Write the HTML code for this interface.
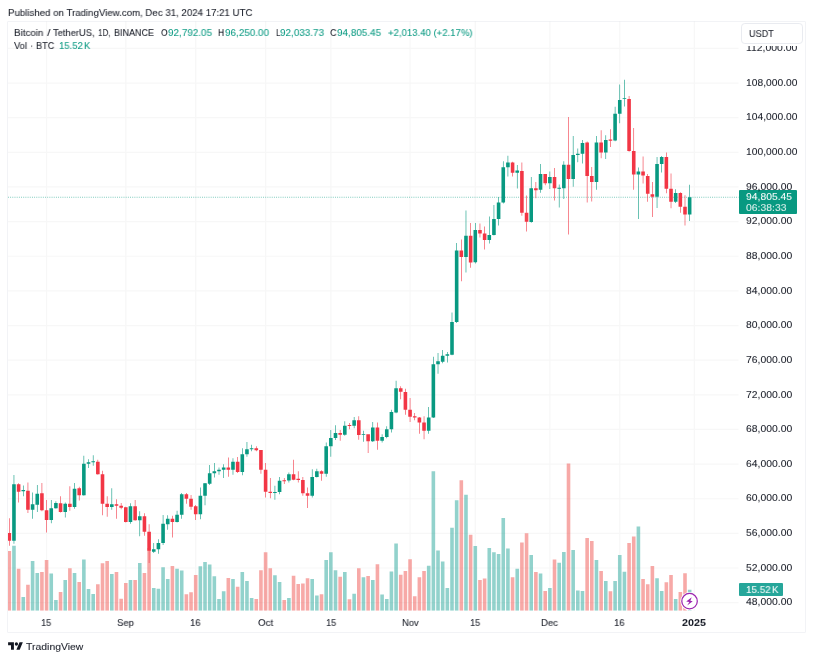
<!DOCTYPE html>
<html><head><meta charset="utf-8"><title>BTCUSDT</title>
<style>
html,body{margin:0;padding:0;background:#fff;}
body{width:813px;height:660px;position:relative;overflow:hidden;font-family:"Liberation Sans",sans-serif;color:#131722;}
.t{position:absolute;white-space:pre;font-size:10px;line-height:12px;height:12px;will-change:transform;transform-origin:0 9px;-webkit-text-stroke:0.06px currentColor;}
.frame{position:absolute;left:7.4px;top:20.6px;width:798.6px;height:612.2px;border:1px solid #f2f3f6;box-sizing:border-box;border-radius:1px;}
.tag{position:absolute;border-radius:1px;}
</style></head><body>

<div class="frame"></div>
<svg width="813" height="660" viewBox="0 0 813 660" style="position:absolute;left:0;top:0"><path d="M8.0 602.65H738.5M8.0 568.01H738.5M8.0 533.37H738.5M8.0 498.73H738.5M8.0 464.09H738.5M8.0 429.45H738.5M8.0 394.81H738.5M8.0 360.17H738.5M8.0 325.53H738.5M8.0 290.89H738.5M8.0 256.25H738.5M8.0 221.61H738.5M8.0 186.97H738.5M8.0 152.33H738.5M8.0 117.69H738.5M8.0 83.05H738.5M8.0 48.41H738.5M46.58 21.5V610.7M125.8 21.5V610.7M195.7 21.5V610.7M265.6 21.5V610.7M330.84 21.5V610.7M410.06 21.5V610.7M475.3 21.5V610.7M549.86 21.5V610.7M619.76 21.5V610.7M694.32 21.5V610.7" stroke="rgba(42,46,57,0.04)" stroke-width="1.2" fill="none"/><clipPath id="c"><rect x="8.0" y="21.5" width="730.5" height="589.2"/></clipPath><g clip-path="url(#c)"><path d="M12.16 545.8h3.6V610.7h-3.6zM21.48 597.1h3.6V610.7h-3.6zM30.8 561.1h3.6V610.7h-3.6zM35.46 573.1h3.6V610.7h-3.6zM49.44 573.5h3.6V610.7h-3.6zM54.1 599.9h3.6V610.7h-3.6zM63.42 580.1h3.6V610.7h-3.6zM72.74 573.1h3.6V610.7h-3.6zM82.06 559.4h3.6V610.7h-3.6zM86.72 589.1h3.6V610.7h-3.6zM91.38 594h3.6V610.7h-3.6zM110.02 574.1h3.6V610.7h-3.6zM128.66 579.9h3.6V610.7h-3.6zM137.98 563h3.6V610.7h-3.6zM151.96 588.1h3.6V610.7h-3.6zM156.62 588.8h3.6V610.7h-3.6zM161.28 567.2h3.6V610.7h-3.6zM165.94 579h3.6V610.7h-3.6zM175.26 568.8h3.6V610.7h-3.6zM179.92 570.4h3.6V610.7h-3.6zM198.56 566.2h3.6V610.7h-3.6zM203.22 562.1h3.6V610.7h-3.6zM207.88 564.5h3.6V610.7h-3.6zM212.54 576.2h3.6V610.7h-3.6zM217.2 599h3.6V610.7h-3.6zM221.86 591.2h3.6V610.7h-3.6zM231.18 579h3.6V610.7h-3.6zM240.5 572.1h3.6V610.7h-3.6zM245.16 580.9h3.6V610.7h-3.6zM249.82 598.1h3.6V610.7h-3.6zM273.12 575.2h3.6V610.7h-3.6zM277.78 582h3.6V610.7h-3.6zM287.1 598.1h3.6V610.7h-3.6zM310.4 578.9h3.6V610.7h-3.6zM315.06 595.5h3.6V610.7h-3.6zM324.38 560h3.6V610.7h-3.6zM329.04 552.2h3.6V610.7h-3.6zM333.7 570.3h3.6V610.7h-3.6zM343.02 571.9h3.6V610.7h-3.6zM352.34 593.8h3.6V610.7h-3.6zM361.66 577.2h3.6V610.7h-3.6zM370.98 580.1h3.6V610.7h-3.6zM380.3 594.4h3.6V610.7h-3.6zM384.96 599h3.6V610.7h-3.6zM389.62 571.5h3.6V610.7h-3.6zM394.28 543.4h3.6V610.7h-3.6zM426.9 565.8h3.6V610.7h-3.6zM431.56 471.3h3.6V610.7h-3.6zM436.22 550.6h3.6V610.7h-3.6zM440.88 561.4h3.6V610.7h-3.6zM445.54 588.1h3.6V610.7h-3.6zM450.2 527.7h3.6V610.7h-3.6zM454.86 500.3h3.6V610.7h-3.6zM464.18 494.8h3.6V610.7h-3.6zM473.5 546.1h3.6V610.7h-3.6zM487.48 547.9h3.6V610.7h-3.6zM492.14 552.2h3.6V610.7h-3.6zM496.8 554.1h3.6V610.7h-3.6zM501.46 518.1h3.6V610.7h-3.6zM506.12 548.5h3.6V610.7h-3.6zM515.44 568.8h3.6V610.7h-3.6zM529.42 555h3.6V610.7h-3.6zM538.74 573.5h3.6V610.7h-3.6zM548.06 587.9h3.6V610.7h-3.6zM557.38 562.7h3.6V610.7h-3.6zM562.04 551.9h3.6V610.7h-3.6zM571.36 550h3.6V610.7h-3.6zM576.02 590.6h3.6V610.7h-3.6zM580.68 591.1h3.6V610.7h-3.6zM594.66 560h3.6V610.7h-3.6zM603.98 581.1h3.6V610.7h-3.6zM613.3 580.9h3.6V610.7h-3.6zM617.96 555h3.6V610.7h-3.6zM622.62 571.7h3.6V610.7h-3.6zM636.6 526.5h3.6V610.7h-3.6zM655.24 578.3h3.6V610.7h-3.6zM659.9 590.9h3.6V610.7h-3.6zM673.88 599.1h3.6V610.7h-3.6zM687.86 589.8h3.6V610.7h-3.6z" fill="rgba(38,166,154,0.5)"/><path d="M7.5 551h3.6V610.7h-3.6zM16.82 568.8h3.6V610.7h-3.6zM26.14 584.8h3.6V610.7h-3.6zM40.12 572.1h3.6V610.7h-3.6zM44.78 560h3.6V610.7h-3.6zM58.76 592h3.6V610.7h-3.6zM68.08 568.2h3.6V610.7h-3.6zM77.4 582h3.6V610.7h-3.6zM96.04 584.2h3.6V610.7h-3.6zM100.7 563.3h3.6V610.7h-3.6zM105.36 561.1h3.6V610.7h-3.6zM114.68 572.1h3.6V610.7h-3.6zM119.34 598.7h3.6V610.7h-3.6zM124 583h3.6V610.7h-3.6zM133.32 579.9h3.6V610.7h-3.6zM142.64 573.1h3.6V610.7h-3.6zM147.3 548h3.6V610.7h-3.6zM170.6 566.1h3.6V610.7h-3.6zM184.58 594.3h3.6V610.7h-3.6zM189.24 592.2h3.6V610.7h-3.6zM193.9 575.1h3.6V610.7h-3.6zM226.52 578.1h3.6V610.7h-3.6zM235.84 586.7h3.6V610.7h-3.6zM254.48 599h3.6V610.7h-3.6zM259.14 570.3h3.6V610.7h-3.6zM263.8 552.2h3.6V610.7h-3.6zM268.46 568.2h3.6V610.7h-3.6zM282.44 599.9h3.6V610.7h-3.6zM291.76 575.8h3.6V610.7h-3.6zM296.42 584h3.6V610.7h-3.6zM301.08 583.6h3.6V610.7h-3.6zM305.74 578.3h3.6V610.7h-3.6zM319.72 594.3h3.6V610.7h-3.6zM338.36 576.8h3.6V610.7h-3.6zM347.68 599.2h3.6V610.7h-3.6zM357 568.2h3.6V610.7h-3.6zM366.32 576h3.6V610.7h-3.6zM375.64 564.2h3.6V610.7h-3.6zM398.94 574.7h3.6V610.7h-3.6zM403.6 571h3.6V610.7h-3.6zM408.26 559.2h3.6V610.7h-3.6zM412.92 596.3h3.6V610.7h-3.6zM417.58 577.2h3.6V610.7h-3.6zM422.24 570.9h3.6V610.7h-3.6zM459.52 480.3h3.6V610.7h-3.6zM468.84 534.7h3.6V610.7h-3.6zM478.16 580.1h3.6V610.7h-3.6zM482.82 578.4h3.6V610.7h-3.6zM510.78 577.2h3.6V610.7h-3.6zM520.1 542.4h3.6V610.7h-3.6zM524.76 533.2h3.6V610.7h-3.6zM534.08 571.9h3.6V610.7h-3.6zM543.4 591h3.6V610.7h-3.6zM552.72 559.4h3.6V610.7h-3.6zM566.7 463.6h3.6V610.7h-3.6zM585.34 538.1h3.6V610.7h-3.6zM590 540.9h3.6V610.7h-3.6zM599.32 571h3.6V610.7h-3.6zM608.64 591.2h3.6V610.7h-3.6zM627.28 543h3.6V610.7h-3.6zM631.94 536.5h3.6V610.7h-3.6zM641.26 579h3.6V610.7h-3.6zM645.92 584.3h3.6V610.7h-3.6zM650.58 566h3.6V610.7h-3.6zM664.56 582.2h3.6V610.7h-3.6zM669.22 575h3.6V610.7h-3.6zM678.54 591.9h3.6V610.7h-3.6zM683.2 573.2h3.6V610.7h-3.6z" fill="rgba(239,83,80,0.5)"/><path d="M8.0 197.25H739.4" stroke="#089981" stroke-width="0.9" stroke-dasharray="0.9 1.28" fill="none" opacity="0.62"/><path d="M13.66 475h0.6V543.7h-0.6zM12.16 484.2h3.6V540.8h-3.6zM22.98 485.5h0.6V496.3h-0.6zM21.48 490h3.6V491.2h-3.6zM32.3 492.5h0.6V518.7h-0.6zM30.8 504.2h3.6V509.7h-3.6zM36.96 485h0.6V512h-0.6zM35.46 493.7h3.6V504.7h-3.6zM50.94 500h0.6V523.3h-0.6zM49.44 508.3h3.6V520h-3.6zM55.6 501.3h0.6V508.7h-0.6zM54.1 503h3.6V508.3h-3.6zM64.92 502.5h0.6V517.5h-0.6zM63.42 503.7h3.6V512h-3.6zM74.24 483h0.6V508.7h-0.6zM72.74 488.7h3.6V507h-3.6zM83.56 455.8h0.6V495.8h-0.6zM82.06 463.7h3.6V495.3h-3.6zM88.22 459.2h0.6V468h-0.6zM86.72 462.3h3.6V463.7h-3.6zM92.88 455.3h0.6V465.8h-0.6zM91.38 461.3h3.6V462.3h-3.6zM111.52 488.3h0.6V509.7h-0.6zM110.02 504.2h3.6V507h-3.6zM130.16 503.3h0.6V523.7h-0.6zM128.66 506.3h3.6V522h-3.6zM139.48 511.3h0.6V536.3h-0.6zM137.98 516.3h3.6V520.3h-3.6zM153.46 543h0.6V553h-0.6zM151.96 549.2h3.6V551.7h-3.6zM158.12 539.2h0.6V553.7h-0.6zM156.62 543h3.6V549.2h-3.6zM162.78 515h0.6V545h-0.6zM161.28 523.7h3.6V543h-3.6zM167.44 515.3h0.6V529.7h-0.6zM165.94 518.7h3.6V524.2h-3.6zM176.76 510.8h0.6V522.5h-0.6zM175.26 514.7h3.6V522h-3.6zM181.42 493h0.6V518.7h-0.6zM179.92 494.2h3.6V514.7h-3.6zM200.06 487.5h0.6V519.2h-0.6zM198.56 495.8h3.6V514.2h-3.6zM204.72 483h0.6V505.3h-0.6zM203.22 483.3h3.6V495.8h-3.6zM209.38 465h0.6V485h-0.6zM207.88 473.3h3.6V483.7h-3.6zM214.04 463h0.6V477.5h-0.6zM212.54 471.3h3.6V473.3h-3.6zM218.7 467.5h0.6V474.7h-0.6zM217.2 469.7h3.6V471.3h-3.6zM223.36 464.2h0.6V478h-0.6zM221.86 467.5h3.6V469.7h-3.6zM232.68 458.3h0.6V474.7h-0.6zM231.18 461.7h3.6V469.7h-3.6zM242 448.3h0.6V475.3h-0.6zM240.5 454.2h3.6V472h-3.6zM246.66 442h0.6V456.7h-0.6zM245.16 449.2h3.6V454.2h-3.6zM251.32 444.7h0.6V451.3h-0.6zM249.82 448.3h3.6V449.2h-3.6zM274.62 485.8h0.6V499.7h-0.6zM273.12 492h3.6V493h-3.6zM279.28 477h0.6V494.2h-0.6zM277.78 480.8h3.6V492h-3.6zM288.6 472.5h0.6V482.5h-0.6zM287.1 474.2h3.6V480.5h-3.6zM311.9 469.2h0.6V497.5h-0.6zM310.4 477h3.6V495.8h-3.6zM316.56 468.7h0.6V477.5h-0.6zM315.06 471.3h3.6V477h-3.6zM325.88 442.5h0.6V476.7h-0.6zM324.38 446.3h3.6V473.7h-3.6zM330.54 430h0.6V456.7h-0.6zM329.04 438h3.6V446.3h-3.6zM335.2 425.3h0.6V440h-0.6zM333.7 433h3.6V438h-3.6zM344.52 421.3h0.6V435.8h-0.6zM343.02 425.8h3.6V434.7h-3.6zM353.84 417h0.6V428.3h-0.6zM352.34 420.3h3.6V425.8h-3.6zM363.16 430.8h0.6V441.7h-0.6zM361.66 434.2h3.6V435h-3.6zM372.48 422h0.6V442h-0.6zM370.98 427.5h3.6V441.3h-3.6zM381.8 434.2h0.6V442.5h-0.6zM380.3 437h3.6V440.8h-3.6zM386.46 426.3h0.6V438.3h-0.6zM384.96 429.2h3.6V437h-3.6zM391.12 409.7h0.6V432.5h-0.6zM389.62 412h3.6V429.2h-3.6zM395.78 380.8h0.6V413.3h-0.6zM394.28 388.3h3.6V412.5h-3.6zM428.4 407h0.6V433.7h-0.6zM426.9 417.5h3.6V430.8h-3.6zM433.06 356.7h0.6V418h-0.6zM431.56 364.2h3.6V417.5h-3.6zM437.72 353h0.6V373.7h-0.6zM436.22 361.3h3.6V364.2h-3.6zM442.38 350h0.6V363.3h-0.6zM440.88 355.8h3.6V361.7h-3.6zM447.04 352h0.6V362.5h-0.6zM445.54 354.2h3.6V355.8h-3.6zM451.7 312.5h0.6V355.3h-0.6zM450.2 322h3.6V354.7h-3.6zM456.36 243h0.6V323h-0.6zM454.86 250.4h3.6V322h-3.6zM465.68 210.4h0.6V272.5h-0.6zM464.18 235.8h3.6V257h-3.6zM475 223h0.6V263.6h-0.6zM473.5 230h3.6V262.3h-3.6zM488.98 216.4h0.6V243.6h-0.6zM487.48 235h3.6V240h-3.6zM493.64 205h0.6V235.5h-0.6zM492.14 219h3.6V235h-3.6zM498.3 197h0.6V225.5h-0.6zM496.8 202.4h3.6V219h-3.6zM502.96 161.3h0.6V203.6h-0.6zM501.46 167.3h3.6V202.4h-3.6zM507.62 155.8h0.6V176.4h-0.6zM506.12 162.4h3.6V167.3h-3.6zM516.94 165h0.6V188.5h-0.6zM515.44 170.4h3.6V172.7h-3.6zM530.92 177h0.6V222.7h-0.6zM529.42 188.3h3.6V222h-3.6zM540.24 164.1h0.6V192.7h-0.6zM538.74 174h3.6V189.7h-3.6zM549.56 171.4h0.6V189.1h-0.6zM548.06 176.9h3.6V183.2h-3.6zM558.88 184.4h0.6V207.4h-0.6zM557.38 187.8h3.6V188.7h-3.6zM563.54 161.2h0.6V199h-0.6zM562.04 164.7h3.6V188.3h-3.6zM572.86 136h0.6V186.8h-0.6zM571.36 154.9h3.6V178.9h-3.6zM577.52 148.4h0.6V162.2h-0.6zM576.02 153.7h3.6V154.9h-3.6zM582.18 139.9h0.6V163.5h-0.6zM580.68 143.1h3.6V153.7h-3.6zM596.16 136h0.6V189.7h-0.6zM594.66 142.6h3.6V181.9h-3.6zM605.48 135.3h0.6V159.1h-0.6zM603.98 140h3.6V152.5h-3.6zM614.8 106.7h0.6V141.3h-0.6zM613.3 113.8h3.6V140.5h-3.6zM619.46 84.4h0.6V123.3h-0.6zM617.96 100h3.6V113.8h-3.6zM624.12 79.8h0.6V106.4h-0.6zM622.62 98.2h3.6V99.1h-3.6zM638.1 167.6h0.6V219.1h-0.6zM636.6 171.5h3.6V174.5h-3.6zM656.74 157h0.6V207.9h-0.6zM655.24 163.9h3.6V196.8h-3.6zM661.4 155.9h0.6V172.6h-0.6zM659.9 157h3.6V163.9h-3.6zM675.38 189.2h0.6V202.9h-0.6zM673.88 193h3.6V201.8h-3.6zM689.36 184.7h0.6V221.1h-0.6zM687.86 197.2h3.6V214.6h-3.6z" fill="#089981"/><path d="M9 518.3h0.6V545.8h-0.6zM7.5 533h3.6V540.8h-3.6zM18.32 483.3h0.6V502.5h-0.6zM16.82 484.2h3.6V491.7h-3.6zM27.64 482.5h0.6V513h-0.6zM26.14 490.8h3.6V509.7h-3.6zM41.62 483h0.6V511.3h-0.6zM40.12 493.3h3.6V510.3h-3.6zM46.28 500h0.6V532.5h-0.6zM44.78 510.3h3.6V520h-3.6zM60.26 496.3h0.6V512.5h-0.6zM58.76 503.3h3.6V512h-3.6zM69.58 486.3h0.6V510.8h-0.6zM68.08 503.7h3.6V507h-3.6zM78.9 486.7h0.6V500.5h-0.6zM77.4 488.3h3.6V495.3h-3.6zM97.54 459.7h0.6V474.7h-0.6zM96.04 461.7h3.6V474.2h-3.6zM102.2 470.8h0.6V515.3h-0.6zM100.7 474.2h3.6V503.7h-3.6zM106.86 496.3h0.6V516.7h-0.6zM105.36 503.7h3.6V507h-3.6zM116.18 499.2h0.6V518.7h-0.6zM114.68 504.2h3.6V505.8h-3.6zM120.84 503h0.6V509.2h-0.6zM119.34 505.8h3.6V507.8h-3.6zM125.5 506.7h0.6V522.5h-0.6zM124 507.2h3.6V522h-3.6zM134.82 500h0.6V520.8h-0.6zM133.32 506.3h3.6V520.3h-3.6zM144.14 513.3h0.6V535.8h-0.6zM142.64 516.3h3.6V531.7h-3.6zM148.8 524.2h0.6V563h-0.6zM147.3 531.7h3.6V550.8h-3.6zM172.1 515.8h0.6V537.5h-0.6zM170.6 518.7h3.6V522h-3.6zM186.08 493h0.6V503.7h-0.6zM184.58 494.2h3.6V498.7h-3.6zM190.74 495h0.6V509.7h-0.6zM189.24 498.7h3.6V506.7h-3.6zM195.4 505h0.6V520h-0.6zM193.9 506.3h3.6V514.2h-3.6zM228.02 457.5h0.6V476.7h-0.6zM226.52 467.5h3.6V469.7h-3.6zM237.34 457h0.6V473h-0.6zM235.84 461.7h3.6V472h-3.6zM255.98 446.3h0.6V451.3h-0.6zM254.48 448.3h3.6V450.3h-3.6zM260.64 450h0.6V473.7h-0.6zM259.14 450h3.6V469.7h-3.6zM265.3 463h0.6V497.5h-0.6zM263.8 469.7h3.6V491.7h-3.6zM269.96 478h0.6V498.3h-0.6zM268.46 491.7h3.6V493h-3.6zM283.94 478h0.6V484h-0.6zM282.44 480.3h3.6V481.3h-3.6zM293.26 459.7h0.6V480.3h-0.6zM291.76 474.2h3.6V479.7h-3.6zM297.92 471.3h0.6V482.5h-0.6zM296.42 478.7h3.6V480h-3.6zM302.58 477h0.6V495.8h-0.6zM301.08 480h3.6V493.3h-3.6zM307.24 487.5h0.6V508h-0.6zM305.74 493.3h3.6V495.8h-3.6zM321.22 470.3h0.6V480.8h-0.6zM319.72 471.3h3.6V473.7h-3.6zM339.86 430h0.6V440.8h-0.6zM338.36 433h3.6V434.7h-3.6zM349.18 423h0.6V429.2h-0.6zM347.68 425h3.6V426h-3.6zM358.5 416.3h0.6V439.7h-0.6zM357 420.3h3.6V435h-3.6zM367.82 434.2h0.6V453h-0.6zM366.32 434.2h3.6V441.3h-3.6zM377.14 422.5h0.6V449.7h-0.6zM375.64 427.5h3.6V440.8h-3.6zM400.44 386.3h0.6V399.2h-0.6zM398.94 388.3h3.6V391.7h-3.6zM405.1 388.7h0.6V414.7h-0.6zM403.6 392h3.6V409.7h-3.6zM409.76 398h0.6V422h-0.6zM408.26 409.7h3.6V416.7h-3.6zM414.42 413h0.6V420.3h-0.6zM412.92 416.3h3.6V417.5h-3.6zM419.08 417h0.6V433.7h-0.6zM417.58 417.5h3.6V422.5h-3.6zM423.74 416.3h0.6V439.2h-0.6zM422.24 422.5h3.6V430.8h-3.6zM461.02 239.5h0.6V281.3h-0.6zM459.52 250.4h3.6V257h-3.6zM470.34 223h0.6V267.7h-0.6zM468.84 235.8h3.6V262.5h-3.6zM479.66 223.6h0.6V237.6h-0.6zM478.16 230h3.6V233.6h-3.6zM484.32 226.4h0.6V249.6h-0.6zM482.82 233.6h3.6V240h-3.6zM512.28 161.8h0.6V176.4h-0.6zM510.78 162.4h3.6V172.7h-3.6zM521.6 162.4h0.6V215.8h-0.6zM520.1 171h3.6V212.7h-3.6zM526.26 195.5h0.6V231.5h-0.6zM524.76 212.7h3.6V221.8h-3.6zM535.58 182h0.6V198.2h-0.6zM534.08 188.3h3.6V190.2h-3.6zM544.9 174h0.6V185.2h-0.6zM543.4 174h3.6V183.2h-3.6zM554.22 168.1h0.6V200.6h-0.6zM552.72 176.9h3.6V188.3h-3.6zM568.2 116.9h0.6V234.4h-0.6zM566.7 164.7h3.6V178.9h-3.6zM586.84 141.5h0.6V202.5h-0.6zM585.34 142.5h3.6V175.9h-3.6zM591.5 167.1h0.6V201.5h-0.6zM590 175.9h3.6V181.9h-3.6zM600.82 130.2h0.6V158.2h-0.6zM599.32 142.6h3.6V152.5h-3.6zM610.14 129.2h0.6V147h-0.6zM608.64 139.6h3.6V140.7h-3.6zM628.78 96.1h0.6V151.8h-0.6zM627.28 99.1h3.6V151h-3.6zM633.44 127.9h0.6V189.7h-0.6zM631.94 151h3.6V174.5h-3.6zM642.76 156.4h0.6V183.6h-0.6zM641.26 171.5h3.6V175.6h-3.6zM647.42 174.1h0.6V201.8h-0.6zM645.92 176.1h3.6V193.8h-3.6zM652.08 182.1h0.6V217h-0.6zM650.58 194.2h3.6V196.8h-3.6zM666.06 152.4h0.6V193.3h-0.6zM664.56 157h3.6V188.8h-3.6zM670.72 173.6h0.6V208.2h-0.6zM669.22 188.8h3.6V201.8h-3.6zM680.04 192.3h0.6V212.7h-0.6zM678.54 193h3.6V206.7h-3.6zM684.7 195.3h0.6V225.6h-0.6zM683.2 206.7h3.6V214.5h-3.6z" fill="#f23645"/></g><g transform="translate(689.55 601.2)"><circle r="9.2" fill="#fff"/><circle r="7.75" fill="#fff" stroke="#9c27b0" stroke-width="1.25"/><path d="M2.2 -4.05L-3.35 0.4L-0.2 0.9L-2.4 4.3L3.2 0.1L0.8 -0.5Z" fill="#9c27b0"/></g><g transform="translate(8.1 640.65) scale(0.415)" fill="#131722"><path d="M14 22H7V11H0V4h14v18zM28 22h-8l7.5-18h8L28 22z"/><circle cx="20" cy="8" r="4"/></g></svg>
<div style="position:absolute;left:741.2px;top:23.2px;width:61.9px;height:21.2px;box-sizing:border-box;border:1.2px solid #e9ebf0;border-radius:3.8px;background:#fff;"></div>
<div class="tag" style="left:739px;top:190.4px;width:58px;height:23.7px;background:#089981;"></div>
<div class="tag" style="left:739px;top:583px;width:44.3px;height:13.2px;background:#26a69a;"></div>
<div class="t" style="left:7.90px;top:6.80px;transform:scale(0.9670,0.86);">Published on TradingView.com, Dec 31, 2024 17:21 UTC</div>
<div class="t" style="left:14.30px;top:27.25px;transform:scale(0.9762,0.86);">Bitcoin</div>
<div class="t" style="left:46.90px;top:27.25px;transform:scale(1.1865,0.86);">/</div>
<div class="t" style="left:53.40px;top:27.25px;transform:scale(0.9355,0.86);">TetherUS,</div>
<div class="t" style="left:98.30px;top:27.25px;transform:scale(0.8096,0.86);">1D,</div>
<div class="t" style="left:113.90px;top:27.25px;transform:scale(0.8998,0.86);">BINANCE</div>
<div class="t" style="left:160.50px;top:27.25px;transform:scale(0.8482,0.86);">O</div>
<div class="t" style="left:168.10px;top:27.30px;transform:scale(0.9888,0.86);color:#089981;">92,792.05</div>
<div class="t" style="left:218.00px;top:27.25px;transform:scale(0.8570,0.86);">H</div>
<div class="t" style="left:225.00px;top:27.30px;transform:scale(0.9888,0.86);color:#089981;">96,250.00</div>
<div class="t" style="left:275.80px;top:27.25px;transform:scale(0.8270,0.86);">L</div>
<div class="t" style="left:280.40px;top:27.30px;transform:scale(0.9888,0.86);color:#089981;">92,033.73</div>
<div class="t" style="left:330.10px;top:27.25px;transform:scale(0.8985,0.86);">C</div>
<div class="t" style="left:337.30px;top:27.30px;transform:scale(0.9888,0.86);color:#089981;">94,805.45</div>
<div class="t" style="left:387.80px;top:27.30px;transform:scale(0.9569,0.86);color:#089981;">+2,013.40 (+2.17%)</div>
<div class="t" style="left:14.30px;top:40.40px;transform:scale(0.9348,0.86);">Vol</div>
<div class="t" style="left:29.90px;top:40.40px;transform:scale(0.9869,0.86);">·</div>
<div class="t" style="left:35.70px;top:40.40px;transform:scale(0.9150,0.86);">BTC</div>
<div class="t" style="left:59.40px;top:40.40px;transform:scale(0.9508,0.86);color:#089981;">15.52</div>
<div class="t" style="left:84.20px;top:40.40px;transform:scale(0.9293,0.86);color:#089981;">K</div>
<div class="t" style="left:749.00px;top:27.85px;transform:scale(0.9106,0.86);">USDT</div>
<div class="t" style="left:745.70px;top:596.30px;transform:scale(1.0382,0.86);">48,000.00</div>
<div class="t" style="left:745.70px;top:561.67px;transform:scale(1.0382,0.86);">52,000.00</div>
<div class="t" style="left:745.70px;top:527.04px;transform:scale(1.0382,0.86);">56,000.00</div>
<div class="t" style="left:745.70px;top:492.41px;transform:scale(1.0382,0.86);">60,000.00</div>
<div class="t" style="left:745.70px;top:457.78px;transform:scale(1.0382,0.86);">64,000.00</div>
<div class="t" style="left:745.70px;top:423.15px;transform:scale(1.0382,0.86);">68,000.00</div>
<div class="t" style="left:745.70px;top:388.52px;transform:scale(1.0382,0.86);">72,000.00</div>
<div class="t" style="left:745.70px;top:353.89px;transform:scale(1.0382,0.86);">76,000.00</div>
<div class="t" style="left:745.70px;top:319.26px;transform:scale(1.0382,0.86);">80,000.00</div>
<div class="t" style="left:745.70px;top:284.63px;transform:scale(1.0382,0.86);">84,000.00</div>
<div class="t" style="left:745.70px;top:250.00px;transform:scale(1.0382,0.86);">88,000.00</div>
<div class="t" style="left:745.70px;top:215.37px;transform:scale(1.0382,0.86);">92,000.00</div>
<div class="t" style="left:745.70px;top:180.74px;transform:scale(1.0382,0.86);">96,000.00</div>
<div class="t" style="left:746.10px;top:146.11px;transform:scale(1.0267,0.86);">100,000.00</div>
<div class="t" style="left:746.10px;top:111.48px;transform:scale(1.0267,0.86);">104,000.00</div>
<div class="t" style="left:746.10px;top:76.85px;transform:scale(1.0267,0.86);">108,000.00</div>
<div class="t" style="left:746.10px;top:42.26px;transform:scale(1.0423,0.86);clip-path:inset(3.35px 0 0 0);">112,000.00</div>
<div class="t" style="left:745.90px;top:190.90px;transform:scale(1.0337,0.86);color:#fff;">94,805.45</div>
<div class="t" style="left:745.90px;top:201.70px;transform:scale(1.0376,0.86);color:#fff;opacity:.88;">06:38:33</div>
<div class="t" style="left:745.90px;top:584.00px;transform:scale(0.9828,0.86);color:#fff;">15.52</div>
<div class="t" style="left:772.00px;top:584.00px;transform:scale(0.9593,0.86);color:#fff;">K</div>
<div class="t" style="left:41.43px;top:616.50px;transform:scale(0.9258,0.86);">15</div>
<div class="t" style="left:117.35px;top:616.50px;transform:scale(0.9496,0.86);">Sep</div>
<div class="t" style="left:190.40px;top:616.50px;transform:scale(0.9528,0.86);">16</div>
<div class="t" style="left:258.00px;top:616.50px;transform:scale(0.9767,0.86);">Oct</div>
<div class="t" style="left:325.69px;top:616.50px;transform:scale(0.9258,0.86);">15</div>
<div class="t" style="left:401.66px;top:616.50px;transform:scale(0.9440,0.86);">Nov</div>
<div class="t" style="left:470.15px;top:616.50px;transform:scale(0.9258,0.86);">15</div>
<div class="t" style="left:541.36px;top:616.50px;transform:scale(0.9552,0.86);">Dec</div>
<div class="t" style="left:614.46px;top:616.50px;transform:scale(0.9528,0.86);">16</div>
<div class="t" style="left:682.32px;top:617.00px;transform:scale(1.0787,0.86);font-weight:bold;-webkit-text-stroke:0;">2025</div>
<div class="t" style="left:26.30px;top:640.90px;transform:scale(1.0412,0.86);">TradingView</div>
</body></html>
